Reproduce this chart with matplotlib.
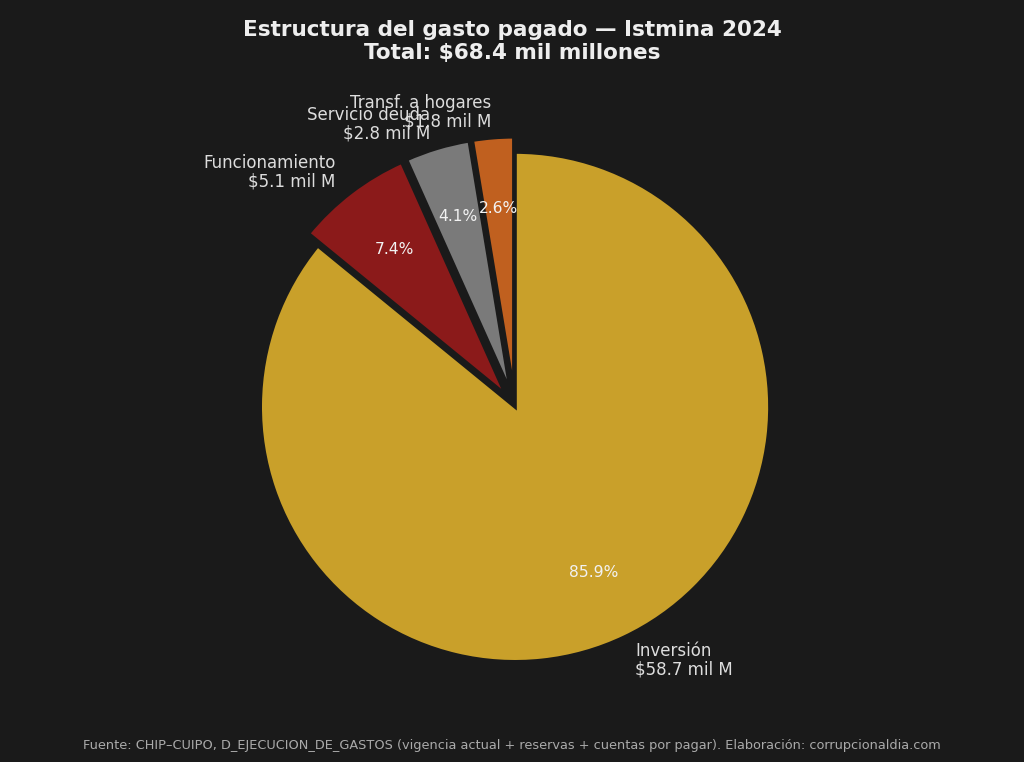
import matplotlib
matplotlib.use('Agg')
import matplotlib.pyplot as plt

# datos del gasto pagado (miles de millones)
categorias = ['Inversión', 'Funcionamiento', 'Servicio deuda', 'Transf. a hogares']
valores = [58.74, 5.06, 2.80, 1.78]
colores = ['#C9A02A', '#8B1A1A', '#7A7A7A', '#C0601F']
explotar = [0, 0.06, 0.06, 0.06]

bg = '#1A1A1A'
total = sum(valores)

etiquetas = [f'{c}\n${v:.1f} mil M' for c, v in zip(categorias, valores)]

fig = plt.figure(figsize=(10.24, 7.62), dpi=100, facecolor=bg)
ax = fig.add_axes([0.053, 0.048, 0.9, 0.836])
ax.set_facecolor(bg)

wedges, textos, pcts = ax.pie(valores, labels=etiquetas, colors=colores, explode=explotar,
                              startangle=90, counterclock=False, autopct='%1.1f%%',
                              pctdistance=0.72, labeldistance=1.1,
                              wedgeprops=dict(edgecolor=bg, linewidth=2.5),
                              textprops=dict(color='#DDDDDD', fontsize=12))
for t in textos:
    t.set_linespacing(1.05)
for t in pcts:
    t.set_color('#F2F2F2')
    t.set_fontsize(11.2)

fig.suptitle(f'Estructura del gasto pagado — Istmina 2024\nTotal: ${total:.1f} mil millones',
             color='#EEEEEE', fontsize=15.5, fontweight='bold', y=0.974)
fig.text(0.5, 0.017, 'Fuente: CHIP–CUIPO, D_EJECUCION_DE_GASTOS (vigencia actual + reservas + cuentas por pagar). '
         'Elaboración: corrupcionaldia.com', ha='center', color='#AAAAAA', fontsize=9.3)

fig.savefig('out.png', dpi=100, facecolor=bg)
